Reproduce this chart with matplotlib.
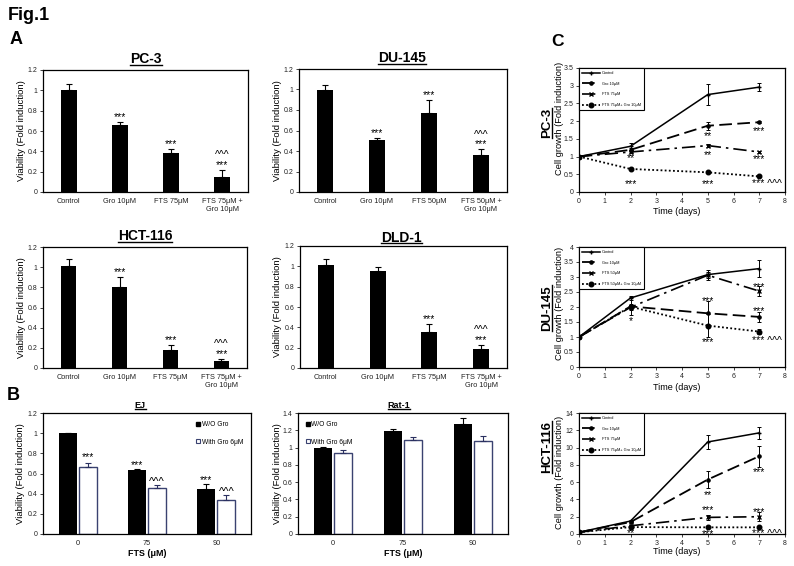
import matplotlib
matplotlib.use('Agg')
import matplotlib.pyplot as plt
from matplotlib.lines import Line2D
from matplotlib.ticker import FuncFormatter, MultipleLocator
import numpy as np

plt.rcParams.update({
    'font.family': ['Liberation Sans', 'DejaVu Sans'],
    'axes.linewidth': 0.9,
    'xtick.major.size': 2, 'ytick.major.size': 2,
    'xtick.major.width': 0.6, 'ytick.major.width': 0.6,
    'xtick.major.pad': 2, 'ytick.major.pad': 2,
    'xtick.labelsize': 5, 'ytick.labelsize': 5,
    'xtick.color': '#222222', 'ytick.color': '#222222',
})

W, H = 794, 566
STAR_FS = 7.5
CARET_FS = 8

# ---- data: panel A (viability, fold induction) ----
labels_75 = ['Control', 'Gro 10μM', 'FTS 75μM', 'FTS 75μM +\nGro 10μM']
labels_50 = ['Control', 'Gro 10μM', 'FTS 50μM', 'FTS 50μM +\nGro 10μM']

pc3_vals = [1.00, 0.66, 0.38, 0.15]
pc3_err = [0.06, 0.03, 0.045, 0.07]
pc3_marks = ['', '***', '***', '^^^\n***']

du_vals = [1.00, 0.51, 0.77, 0.36]
du_err = [0.04, 0.017, 0.125, 0.055]
du_marks = ['', '***', '***', '^^^\n***']

hct_vals = [1.01, 0.80, 0.18, 0.073]
hct_err = [0.067, 0.105, 0.05, 0.017]
hct_marks = ['', '***', '***', '^^^\n***']

dld_vals = [1.01, 0.95, 0.355, 0.19]
dld_err = [0.06, 0.04, 0.073, 0.036]
dld_marks = ['', '', '***', '^^^\n***']

# ---- data: panel B ----
fts_doses = ['0', '75', '90']
ej_wo = [1.00, 0.63, 0.45]
ej_wo_err = [0.006, 0.018, 0.046]
ej_wo_marks = ['', '***', '***']
ej_with = [0.66, 0.453, 0.334]
ej_with_err = [0.04, 0.033, 0.053]
ej_with_marks = ['***', '^^^', '^^^']

rat_wo = [1.00, 1.197, 1.277]
rat_wo_err = [0.008, 0.02, 0.066]
rat_with = [0.932, 1.082, 1.074]
rat_with_err = [0.045, 0.042, 0.058]

# ---- data: panel C (cell growth) ----
days = [0, 2, 5, 7]
pc3_c = [[1.0, 1.29, 2.75, 2.96], [1.0, 1.19, 1.87, 1.97],
         [1.0, 1.13, 1.31, 1.13], [1.0, 0.65, 0.555, 0.44]]
pc3_c_err = [[0, 0.1, 0.3, 0.12], [0, 0.05, 0.11, 0.03],
             [0, 0.04, 0.04, 0.04], [0, 0.03, 0.03, 0.03]]
pc3_notes = [(2, 1.02, '**'), (2, 0.3, '***'), (5, 1.65, '**'), (5, 1.12, '**'),
             (5, 0.3, '***'), (7, 1.78, '***'), (7, 0.99, '***'), (7.3, 0.3, '*** ^^^')]

du_c = [[1.0, 2.30, 3.08, 3.28], [1.0, 2.02, 1.79, 1.67],
        [1.0, 1.99, 3.06, 2.53], [1.0, 2.01, 1.38, 1.18]]
du_c_err = [[0, 0.08, 0.17, 0.28], [0, 0.3, 0.42, 0.16],
            [0, 0.1, 0.1, 0.17], [0, 0.05, 0.38, 0.08]]
du_notes = [(2, 1.62, '*'), (5, 2.27, '***'), (5, 0.9, '***'), (7, 2.75, '***'),
            (7, 1.93, '***'), (7.3, 0.93, '*** ^^^')]

hct_c = [[0.2, 1.5, 10.65, 11.7], [0.2, 1.38, 6.3, 9.0],
         [0.2, 0.95, 1.92, 2.0], [0.2, 0.8, 0.77, 0.77]]
hct_c_err = [[0, 0.15, 0.8, 0.7], [0, 0.15, 1.0, 1.2],
             [0, 0.1, 0.3, 0.5], [0, 0.05, 0.05, 0.05]]
hct_notes = [(2, 0.35, '**'), (5, 4.8, '**'), (5, 3.0, '***'), (5, 0.3, '***'),
             (7, 7.4, '***'), (7, 2.85, '***'), (7.3, 0.3, '*** ^^^')]

legend_75 = ['Control', 'Gro 10μM', 'FTS 75μM', 'FTS 75μM+ Gro 10μM']
legend_50 = ['Control', 'Gro 10μM', 'FTS 50μM', 'FTS 50μM+ Gro 10μM']

fig = plt.figure(figsize=(W / 100, H / 100), dpi=100)
under = []


def box(l, t, r, b):
    return [l / W, 1 - b / H, (r - l) / W, (b - t) / H]


def ftext(x, y, s, **kw):
    return fig.text(x / W, 1 - y / H, s, **kw)


def gfmt(ax):
    ax.yaxis.set_major_formatter(FuncFormatter(lambda v, p: f'{v:g}'))


def bar_panel(rect, title, tpos, ylab_x, labels, vals, errs, marks):
    ax = fig.add_axes(box(*rect))
    x = np.arange(len(vals))
    ax.bar(x, vals, width=0.31, color='black', zorder=2)
    ax.errorbar(x, vals, yerr=[np.zeros(len(errs)), errs], fmt='none', ecolor='black',
                elinewidth=0.8, capsize=2.5, capthick=0.8, zorder=3)
    ax.set_xlim(-0.5, len(vals) - 0.5)
    ax.set_ylim(0, 1.2)
    ax.yaxis.set_major_locator(MultipleLocator(0.2))
    gfmt(ax)
    ax.set_xticks(x, labels)
    ax.tick_params(axis='x', length=0, pad=4, labelsize=5.3)
    for xi, v, e, s in zip(x, vals, errs, marks):
        if s:
            ax.annotate(s, (xi, v + e), xytext=(0, 0), textcoords='offset points',
                        ha='center', va='bottom', fontsize=STAR_FS, linespacing=0.95)
    t = ftext(tpos[0], tpos[1], title, ha='center', va='center', fontsize=10, fontweight='bold')
    under.append(t)
    ftext(ylab_x, (rect[1] + rect[3]) / 2, 'Viability (Fold induction)', rotation=90,
          ha='center', va='center', fontsize=6.8)
    return ax


bar_panel((43, 70, 248, 192), 'PC-3', (146, 59), 21.5, labels_75, pc3_vals, pc3_err, pc3_marks)
bar_panel((299, 69, 507, 192), 'DU-145', (402, 58), 277, labels_50, du_vals, du_err, du_marks)
bar_panel((43, 247, 247, 368), 'HCT-116', (145, 236), 22, labels_75, hct_vals, hct_err, hct_marks)
bar_panel((300, 246, 507, 368), 'DLD-1', (401.5, 237.5), 277, labels_75, dld_vals, dld_err,
          dld_marks)


def group_panel(rect, title, tpos, ylab_x, wo, wo_err, wi, wi_err, ymax,
                wo_marks=None, wi_marks=None, leg_loc='upper right'):
    ax = fig.add_axes(box(*rect))
    x = np.arange(len(wo))
    w = 0.26
    ax.bar(x - 0.145, wo, width=w, color='black', zorder=2)
    ax.bar(x + 0.145, wi, width=w, color='white', edgecolor='#3a4270', linewidth=1.0, zorder=2)
    ax.errorbar(x - 0.145, wo, yerr=[np.zeros(len(wo)), wo_err], fmt='none', ecolor='black',
                elinewidth=0.8, capsize=2.2, capthick=0.8, zorder=3)
    ax.errorbar(x + 0.145, wi, yerr=[np.zeros(len(wi)), wi_err], fmt='none', ecolor='#2a3060',
                elinewidth=0.8, capsize=2.2, capthick=0.8, zorder=3)
    ax.set_xlim(-0.5, len(wo) - 0.5)
    ax.set_ylim(0, ymax)
    ax.yaxis.set_major_locator(MultipleLocator(0.2))
    gfmt(ax)
    ax.set_xticks(x, fts_doses)
    ax.tick_params(axis='x', length=0, pad=4, labelsize=5.3)
    if wo_marks:
        for xi, v, e, s in zip(x - 0.145, wo, wo_err, wo_marks):
            if s:
                ax.annotate(s, (xi, v + e), xytext=(0, -1), textcoords='offset points',
                            ha='center', va='bottom', fontsize=STAR_FS)
        for xi, v, e, s in zip(x + 0.145, wi, wi_err, wi_marks):
            if s:
                fs = STAR_FS if s == '***' else CARET_FS
                ax.annotate(s, (xi, v + e), xytext=(0, 1 if s == '***' else -1.5),
                            textcoords='offset points', ha='center', va='bottom', fontsize=fs)
    h = [Line2D([], [], ls='none', marker='s', ms=3.5, mfc='black', mec='black'),
         Line2D([], [], ls='none', marker='s', ms=3.5, mfc='white', mec='#3a4270', mew=0.8)]
    ax.legend(h, ['W/O Gro', 'With Gro 6μM'], loc=leg_loc, frameon=False, fontsize=4.8,
              handlelength=0.6, handletextpad=0.2, labelspacing=1.6, borderaxespad=0.8)
    t = ftext(tpos[0], tpos[1], title, ha='center', va='center', fontsize=6.5, fontweight='bold')
    under.append(t)
    ftext(ylab_x, (rect[1] + rect[3]) / 2, 'Viability (Fold induction)', rotation=90,
          ha='center', va='center', fontsize=6.8)
    ftext((rect[0] + rect[2]) / 2, 553, 'FTS (μM)', ha='center', va='center',
          fontsize=6.4, fontweight='bold')
    return ax


group_panel((43, 413, 251, 534), 'EJ', (140, 405), 21, ej_wo, ej_wo_err, ej_with, ej_with_err,
            1.2, ej_wo_marks, ej_with_marks, 'upper right')
group_panel((298, 413, 508, 534), 'Rat-1', (399, 405), 277, rat_wo, rat_wo_err,
            rat_with, rat_with_err, 1.4, leg_loc='upper left')

# ---- panel C ----
line_styles = [dict(ls='-', marker='+', ms=3, lw=1.1),
               dict(ls=(0, (7, 3)), marker='o', ms=2.3, lw=1.3),
               dict(ls=(0, (8, 3, 1.5, 3)), marker='x', ms=2.8, lw=1.2),
               dict(ls=(0, (1, 1.3)), marker='o', ms=3.3, lw=1.3)]


def growth_panel(rect, name, name_y, ylab_y, xlab_y, series, errs, labels, ymax, ystep, notes):
    ax = fig.add_axes(box(*rect))
    for vals, e, st, lab in zip(series, errs, line_styles, labels):
        ax.plot(days, vals, color='black', label=lab, **st)
        ax.errorbar(days, vals, yerr=e, fmt='none', ecolor='black', elinewidth=0.7,
                    capsize=1.6, capthick=0.7)
    for xd, yv, s in notes:
        ax.annotate(s, (xd, yv), xytext=(0, -1.7), textcoords='offset points',
                    ha='center', va='center', fontsize=STAR_FS, annotation_clip=False)
    ax.set_xlim(0, 8)
    ax.set_ylim(0, ymax)
    ax.xaxis.set_major_locator(MultipleLocator(1))
    ax.yaxis.set_major_locator(MultipleLocator(ystep))
    gfmt(ax)
    leg = ax.legend(loc='upper left', fontsize=2.8, fancybox=False, edgecolor='black',
                    framealpha=1, handlelength=4.5, labelspacing=1.7, borderaxespad=0,
                    borderpad=0.8, handletextpad=0.6)
    leg.get_frame().set_linewidth(0.8)
    t = ftext(547, name_y, name, rotation=90, ha='center', va='center', fontsize=9.5,
              fontweight='bold')
    under.append(t)
    ftext(560, ylab_y, 'Cell growth (Fold induction)', rotation=90, ha='center', va='center',
          fontsize=6.7)
    ftext(677, xlab_y, 'Time (days)', ha='center', va='center', fontsize=6.5)
    return ax


growth_panel((579, 68, 785, 192), 'PC-3', 123, 118, 211, pc3_c, pc3_c_err, legend_75, 3.5, 0.5,
             pc3_notes)
growth_panel((579, 247, 785, 367), 'DU-145', 308, 303, 387, du_c, du_c_err, legend_50, 4, 0.5,
             du_notes)
growth_panel((579, 413, 785, 534), 'HCT-116', 447, 472, 551, hct_c, hct_c_err, legend_75, 14, 2,
             hct_notes)

# panel letters
ftext(8, 16, 'Fig.1', ha='left', va='center', fontsize=13, fontweight='bold')
ftext(10, 40, 'A', ha='left', va='center', fontsize=13, fontweight='bold')
ftext(7, 395, 'B', ha='left', va='center', fontsize=13, fontweight='bold')
ftext(551, 42, 'C', ha='left', va='center', fontsize=12.5, fontweight='bold')

# underline the cell-line names
fig.canvas.draw()
r = fig.canvas.get_renderer()
for t in under:
    bb = t.get_window_extent(r)
    if t.get_rotation() == 90:
        xl = bb.x1 - 1.0
        fig.add_artist(Line2D([xl / W, xl / W], [bb.y0 / H, bb.y1 / H],
                              transform=fig.transFigure, color='black', lw=1.0))
    else:
        yl = bb.y0 + 1.0
        fig.add_artist(Line2D([bb.x0 / W, bb.x1 / W], [yl / H, yl / H],
                              transform=fig.transFigure, color='black', lw=1.0))

fig.savefig('out.png', dpi=100)
